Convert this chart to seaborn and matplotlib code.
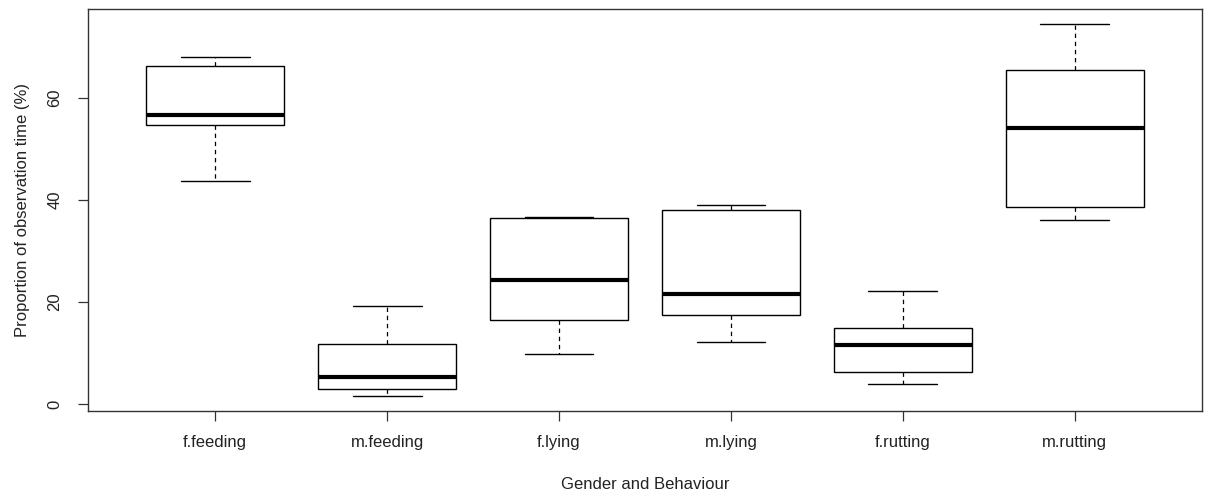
import matplotlib
matplotlib.use("Agg")
import matplotlib.pyplot as plt
import seaborn as sns
import pandas as pd

categories = ["f.feeding", "m.feeding", "f.lying", "m.lying", "f.rutting", "m.rutting"]
# five-number summaries: min, q1, median, q3, max
f_feeding = [43.7, 54.65, 56.7, 66.3, 68.0]
m_feeding = [1.63, 2.87, 5.35, 11.7, 19.26]
f_lying = [9.86, 16.5, 24.3, 36.4, 36.6]
m_lying = [12.1, 17.4, 21.5, 38.1, 38.9]
f_rutting = [3.98, 6.27, 11.5, 14.8, 22.2]
m_rutting = [36.0, 38.7, 54.0, 65.5, 74.5]
yticks = [0, 20, 40, 60]

series = [f_feeding, m_feeding, f_lying, m_lying, f_rutting, m_rutting]
rows = []
for cat, vals in zip(categories, series):
    for v in vals:
        rows.append({"group": cat, "value": v})
df = pd.DataFrame(rows)

sns.set_style("white")
plt.rcParams["font.family"] = ["Liberation Sans", "DejaVu Sans"]

fig = plt.figure(figsize=(12.07, 4.96), dpi=100)
ax = fig.add_axes([88 / 1207, 85 / 496, (1202 - 88) / 1207, (411 - 9) / 496])

sns.boxplot(
    data=df, x="group", y="value", order=categories, ax=ax,
    whis=(0, 100), width=0.8, color="white", linecolor="black", linewidth=1.0,
    fliersize=0,
    medianprops={"color": "black", "linewidth": 3.0, "solid_capstyle": "butt"},
    whiskerprops={"color": "black", "linewidth": 0.9, "linestyle": (0, (3.5, 3))},
    capprops={"color": "black", "linewidth": 1.0},
    boxprops={"facecolor": "white", "edgecolor": "black", "linewidth": 1.0},
)

fs = 12
ax.set_xlim(-0.74, 5.74)
ax.set_ylim(-1.37, 77.4)
ax.set_yticks(yticks)
ax.set_yticklabels([str(t) for t in yticks], rotation=90, va="center")
ax.set_xticks(range(len(categories)))
ax.set_xticklabels(categories)
ax.tick_params(axis="both", direction="out", length=7, width=0.9, color="#333333",
               labelsize=fs, labelcolor="#222222", left=True, bottom=True)
ax.tick_params(axis="y", pad=11.5)
ax.tick_params(axis="x", pad=10.5)
for s in ax.spines.values():
    s.set_visible(True)
    s.set_color("#333333")
    s.set_linewidth(1.0)

ax.set_xlabel("Gender and Behaviour", fontsize=fs, color="#222222", labelpad=19)
ax.set_ylabel("Proportion of observation time (%)", fontsize=fs, color="#222222", labelpad=12.5)

fig.savefig("out.png", dpi=100)
